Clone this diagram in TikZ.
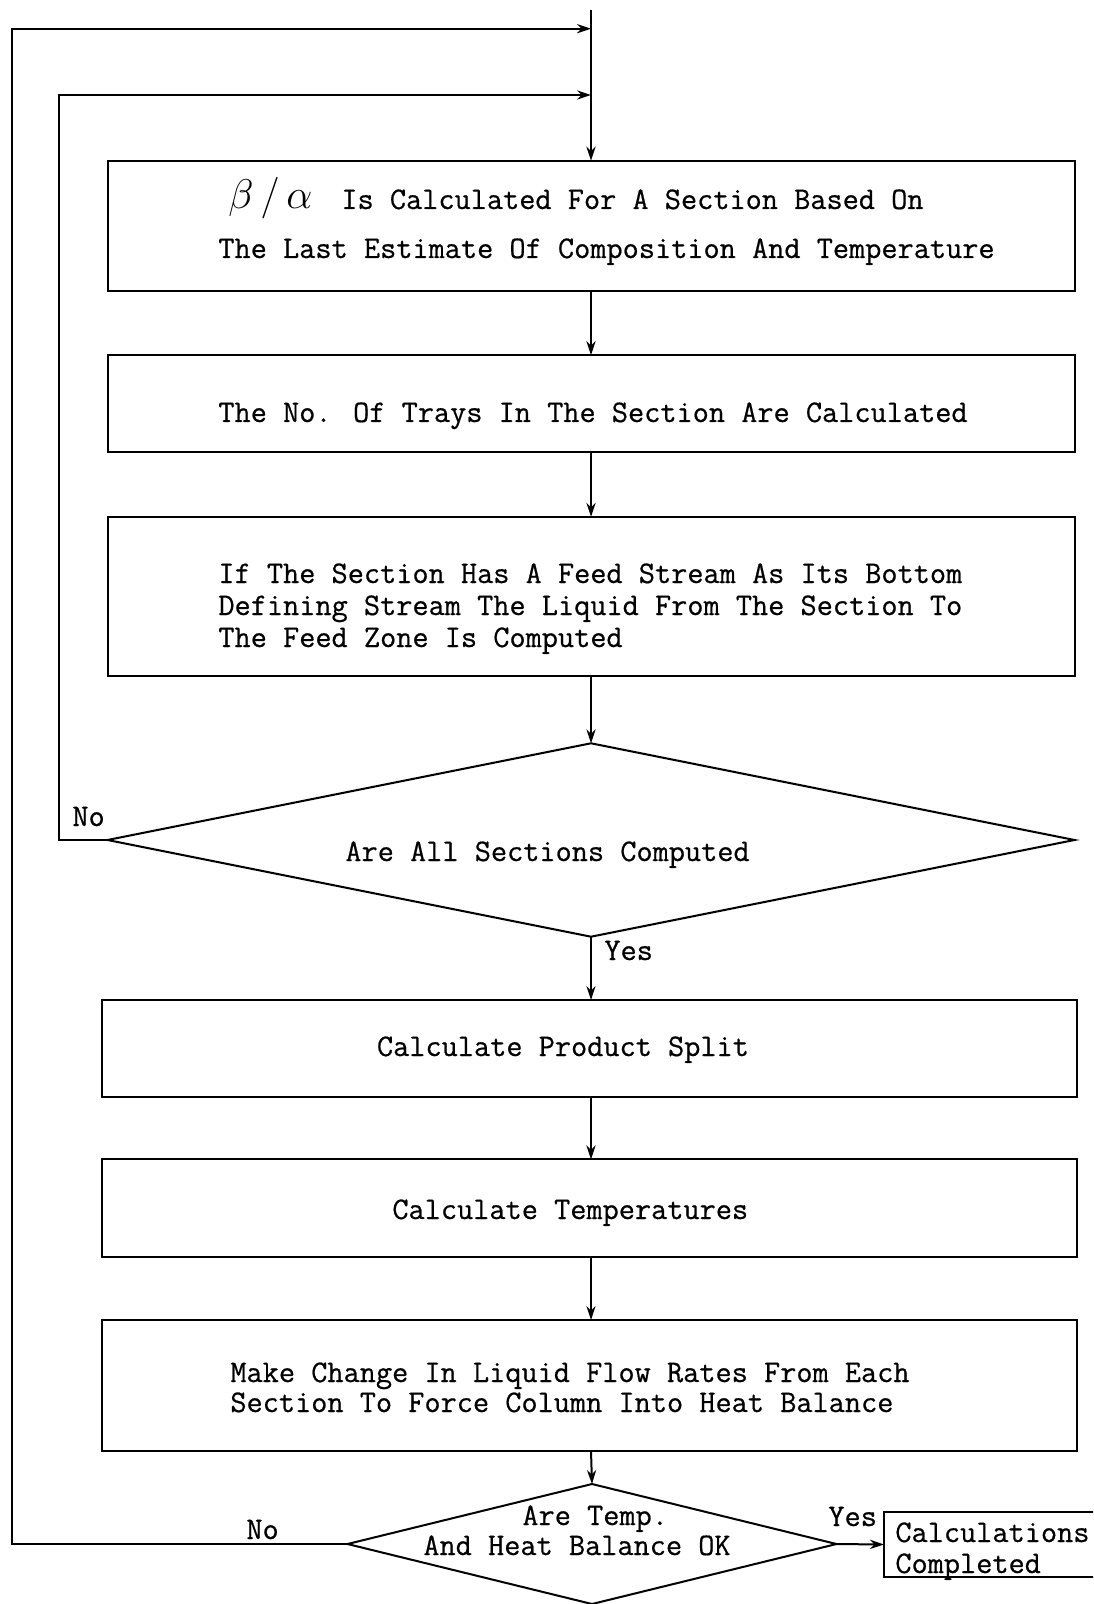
\documentclass[tikz,border=0pt]{standalone}
\usepackage{fontspec}
\setmonofont{Latin Modern Mono}
\newfontfamily\twfont[FakeBold=0.6]{Latin Modern Mono}
\usetikzlibrary{arrows.meta,shapes.geometric}
\tikzset{
  box/.style={draw,rectangle,line width=1pt,inner sep=0pt,outer sep=0pt},
  dia/.style={draw,diamond,line width=1pt,inner sep=0pt,outer sep=0pt},
  lbl/.style={inner sep=0pt,anchor=base west,font=\fontsize{15.7}{16}\selectfont\twfont},
  arr/.style={line width=1pt,-{Stealth[length=7pt,width=4.6pt]}},
  ln/.style={line width=1pt}
}
\begin{document}
\begin{tikzpicture}[x=0.5pt,y=-0.5pt]
\useasboundingbox (0,0) rectangle (1093,1604);
\clip (0,0) rectangle (1093,1604);
% boxes
\node[box,minimum width=483.5pt,minimum height=65pt] (b1) at (591,225.6) {};
\node[box,minimum width=483.5pt,minimum height=48.6pt] (b2) at (591,403.7) {};
\node[box,minimum width=483.5pt,minimum height=79.8pt] (b3) at (591,596.6) {};
\node[dia,minimum width=483.5pt,minimum height=96.7pt] (d1) at (591,840) {};
\node[box,minimum width=487.1pt,minimum height=48.5pt] (b4) at (589.5,1048.5) {};
\node[box,minimum width=487.1pt,minimum height=48.6pt] (b5) at (589.5,1208) {};
\node[box,minimum width=487.1pt,minimum height=65.5pt] (b6) at (589.5,1385.5) {};
\node[dia,minimum width=244.5pt,minimum height=60pt] (d2) at (592,1544) {};
\node[box,minimum width=113pt,minimum height=32.5pt] (b7) at (997,1544.5) {};
% junctions
\coordinate (top) at (591,10);
\coordinate (j1) at (591,28.7);
\coordinate (j2) at (591,95);
\coordinate (l1) at (12.3,28.7);
\coordinate (l2) at (59.4,95);
% texts
\node[inner sep=0pt,anchor=base west,font=\fontsize{21}{22}\selectfont] (t1a) at (228,209) {$\beta\,/\,\alpha$};
\node[lbl] (t1b) at (341,209) {Is Calculated For A Section Based On};
\node[lbl] (t1c) at (218,258) {The Last Estimate Of Composition And Temperature};
\node[lbl] (t2) at (218,422) {The No. Of Trays In The Section Are Calculated};
\node[lbl] (t3a) at (218,583) {If The Section Has A Feed Stream As Its Bottom};
\node[lbl] (t3b) at (218,615) {Defining Stream The Liquid From The Section To};
\node[lbl] (t3c) at (218,647) {The Feed Zone Is Computed};
\node[lbl] (td1) at (345,861) {Are All Sections Computed};
\node[lbl] (no1) at (72,826) {No};
\node[lbl] (yes1) at (604,960) {Yes};
\node[lbl] (t4) at (376.6,1056) {Calculate Product Split};
\node[lbl] (t5) at (392,1219) {Calculate Temperatures};
\node[lbl] (t6a) at (230,1382) {Make Change In Liquid Flow Rates From Each};
\node[lbl] (t6b) at (230,1412) {Section To Force Column Into Heat Balance};
\node[lbl] (td2a) at (522,1525) {Are Temp.};
\node[lbl] (td2b) at (423,1555) {And Heat Balance OK};
\node[lbl] (no2) at (246,1539) {No};
\node[lbl] (yes2) at (828,1526) {Yes};
\node[lbl] (t7a) at (895,1542) {Calculations};
\node[lbl] (t7b) at (895,1573) {Completed};
% connectors
\draw[arr] (top) -- (b1.north);
\draw[arr] (b1.south) -- (b2.north);
\draw[arr] (b2.south) -- (b3.north);
\draw[arr] (b3.south) -- (d1.north);
\draw[arr] (d1.south) -- (d1.south |- b4.north);
\draw[arr] (d1.south |- b4.south) -- (d1.south |- b5.north);
\draw[arr] (d1.south |- b5.south) -- (d1.south |- b6.north);
\draw[arr] (d1.south |- b6.south) -- (d2.north);
\draw[arr] (d1.west) -| (l2) -- (j2);
\draw[arr] (d2.west) -| (l1) -- (j1);
\draw[arr] (d2.east) -- (b7.west);
\end{tikzpicture}
\end{document}
